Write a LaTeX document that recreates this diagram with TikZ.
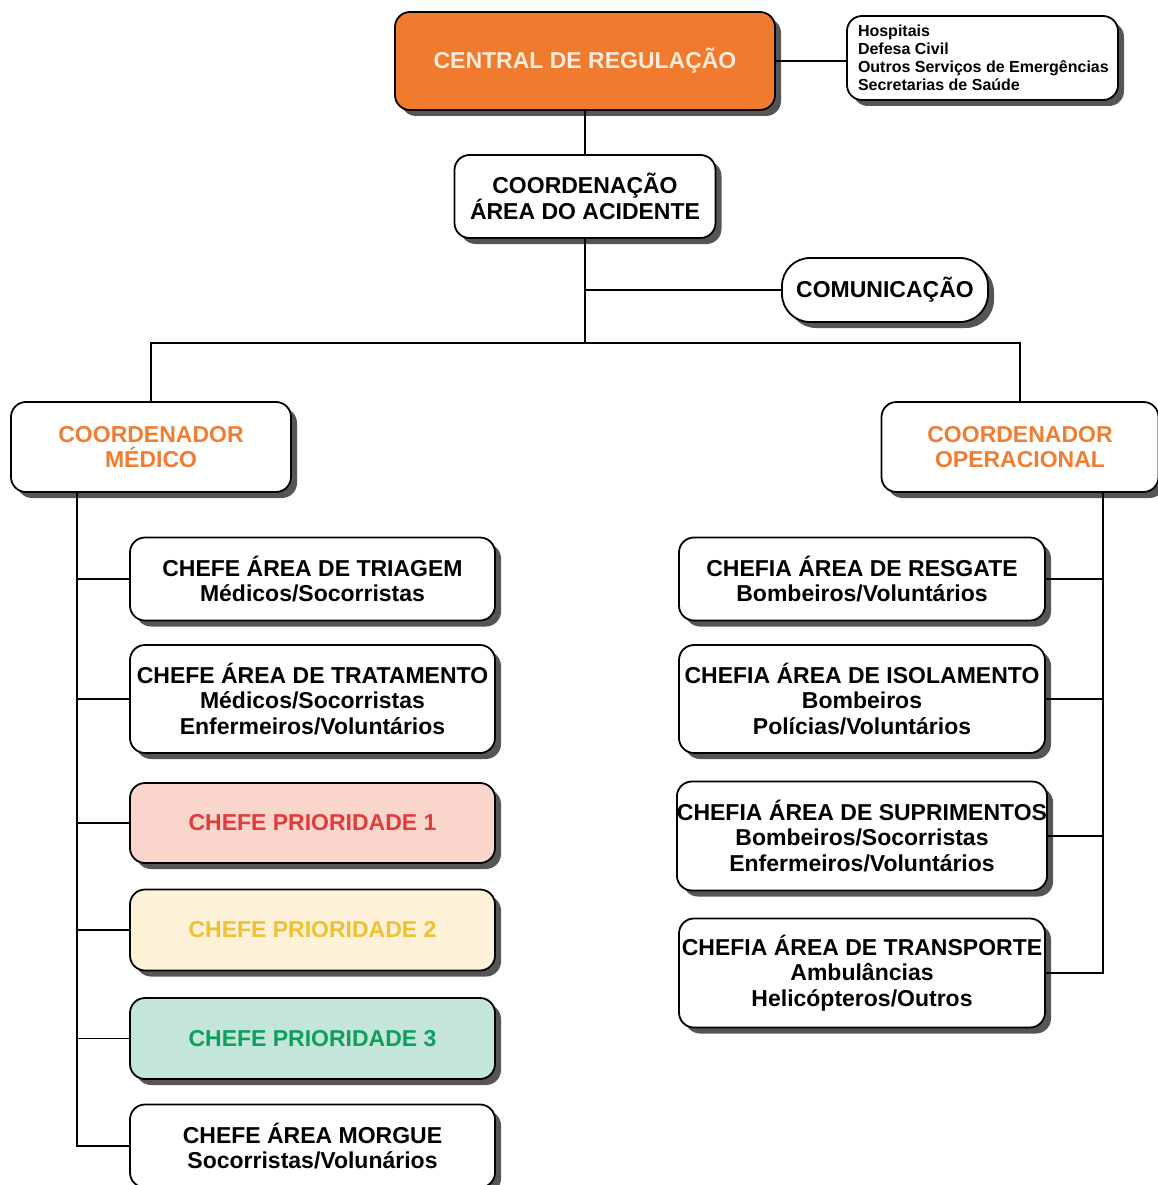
\documentclass[tikz,border=0pt]{standalone}
\usepackage{fontspec}
\setmainfont{Liberation Sans}
\usetikzlibrary{shadows}
\definecolor{orangeC}{HTML}{F07A2E}
\definecolor{creamT}{HTML}{FDEBDC}
\definecolor{orangeT}{HTML}{F07D32}
\definecolor{p1fill}{HTML}{FAD5CC}
\definecolor{p1text}{HTML}{E03C3C}
\definecolor{p2fill}{HTML}{FDF1D8}
\definecolor{p2text}{HTML}{F0C030}
\definecolor{p3fill}{HTML}{C4E5D9}
\definecolor{p3text}{HTML}{0E9E5E}
\definecolor{shadowc}{HTML}{555555}
\begin{document}
\begin{tikzpicture}[x=1pt,y=-1pt,
  box/.style={draw=black, line width=1.8pt, rounded corners=15pt, fill=white,
    align=center, inner sep=0pt, font=\bfseries\fontsize{23}{25.5}\selectfont,
    drop shadow={shadow xshift=6pt, shadow yshift=-6pt, fill=shadowc, opacity=1}},
  leftbox/.style={box, minimum width=365pt},
  rightbox/.style={box, minimum width=366pt},
  link/.style={draw=black, line width=1.8pt}
]
\useasboundingbox[fill=white] (0,0) rectangle (1157,1185);

% top
\node[box, fill=orangeC, text=creamT, minimum width=380pt, minimum height=98pt] (central) at (585,61) {CENTRAL DE REGULAÇÃO};
\node[box, minimum width=271pt, minimum height=84pt, text width=255pt, align=flush left, inner xsep=8pt,
  font=\bfseries\fontsize{16}{18}\selectfont] (ext) at (982.5,58) {\hspace*{3pt}Hospitais\\\hspace*{3pt}Defesa Civil\\\hspace*{3pt}Outros Serviços de Emergências\\\hspace*{3pt}Secretarias de Saúde};
\node[box, minimum width=261pt, minimum height=83pt] (coord) at (585,196.5) {COORDENAÇÃO\\ÁREA DO ACIDENTE};
\node[box, rounded corners=28pt, minimum width=206pt, minimum height=64pt] (com) at (885,290) {COMUNICAÇÃO};

% coordinators
\node[box, text=orangeT, minimum width=280pt, minimum height=90pt] (med) at (151,447) {COORDENADOR\\MÉDICO};
\node[box, text=orangeT, minimum width=277pt, minimum height=90pt] (op) at (1020,447) {COORDENADOR\\OPERACIONAL};

% left column
\node[leftbox, minimum height=83pt] (tri) at (312.5,579) {CHEFE ÁREA DE TRIAGEM\\Médicos/Socorristas};
\node[leftbox, minimum height=108pt] (trat) at (312.5,699) {CHEFE ÁREA DE TRATAMENTO\\Médicos/Socorristas\\Enfermeiros/Voluntários};
\node[leftbox, fill=p1fill, text=p1text, minimum height=80pt] (p1) at (312.5,823) {CHEFE PRIORIDADE 1};
\node[leftbox, fill=p2fill, text=p2text, minimum height=81pt] (p2) at (312.5,930) {CHEFE PRIORIDADE 2};
\node[leftbox, fill=p3fill, text=p3text, minimum height=81pt] (p3) at (312.5,1038.5) {CHEFE PRIORIDADE 3};
\node[leftbox, minimum height=83pt] (morg) at (312.5,1146) {CHEFE ÁREA MORGUE\\Socorristas/Volunários};

% right column
\node[rightbox, minimum height=83pt] (resg) at (862,579) {CHEFIA ÁREA DE RESGATE\\Bombeiros/Voluntários};
\node[rightbox, minimum height=108pt] (isol) at (862,699) {CHEFIA ÁREA DE ISOLAMENTO\\Bombeiros\\Polícias/Voluntários};
\node[rightbox, minimum height=109pt] (supr) at (862,836) {CHEFIA ÁREA DE SUPRIMENTOS\\Bombeiros/Socorristas\\Enfermeiros/Voluntários};
\node[rightbox, minimum height=109pt] (trans) at (862,973) {CHEFIA ÁREA DE TRANSPORTE\\Ambulâncias\\Helicópteros/Outros};

% connectors
\coordinate (j) at (585,343);
\coordinate (ls) at (77,492);
\coordinate (rs) at (1103,492);
\draw[link] (central.east) -- (central.east -| ext.west);
\draw[link] (central.south) -- (coord.north);
\draw[link] (coord.south) -- (j);
\draw[link] (com.west) -- (com.west -| j);
\draw[link] (med.north) |- (j) -| (op.north);
\draw[link] (ls) |- (morg.west);
\foreach \n in {tri,trat,p1,p2,p3} \draw[link] (\n.west) -- (\n.west -| ls);
\draw[link] (rs) |- (trans.east);
\foreach \n in {resg,isol,supr} \draw[link] (\n.east) -- (\n.east -| rs);
\end{tikzpicture}
\end{document}
